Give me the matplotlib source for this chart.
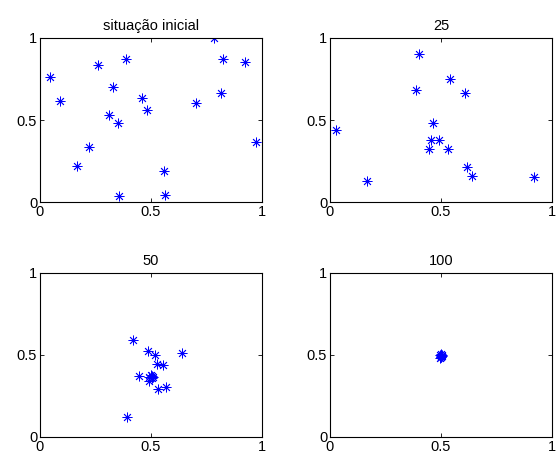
import numpy as np
import matplotlib
matplotlib.use("Agg")
import matplotlib.pyplot as plt

plt.rcParams['font.family'] = ['Liberation Sans', 'DejaVu Sans']

# situacao inicial
x0 = [0.045, 0.09, 0.168, 0.221, 0.263, 0.331, 0.313, 0.353, 0.386, 0.358,
      0.46, 0.481, 0.559, 0.564, 0.704, 0.785, 0.824, 0.815, 0.925, 0.974]
y0 = [0.762, 0.614, 0.217, 0.333, 0.833, 0.699, 0.533, 0.482, 0.872, 0.039,
      0.632, 0.563, 0.187, 0.045, 0.604, 1.0, 0.872, 0.665, 0.852, 0.364]

# 25
x25 = [0.025, 0.165, 0.402, 0.387, 0.465, 0.453, 0.444, 0.49, 0.532, 0.541,
       0.609, 0.615, 0.64, 0.918]
y25 = [0.441, 0.130, 0.902, 0.685, 0.482, 0.380, 0.323, 0.376, 0.325, 0.752,
       0.665, 0.211, 0.161, 0.152]

# 50
x50 = [0.421, 0.486, 0.517, 0.638, 0.526, 0.555, 0.444, 0.492, 0.503, 0.492,
       0.530, 0.568, 0.394, 0.509, 0.498, 0.505]
y50 = [0.593, 0.524, 0.502, 0.514, 0.443, 0.439, 0.370, 0.366, 0.372, 0.341,
       0.293, 0.305, 0.122, 0.366, 0.378, 0.360]

# 100
x100 = [0.495, 0.500, 0.505, 0.498, 0.502, 0.497, 0.503, 0.500]
y100 = [0.500, 0.505, 0.495, 0.490, 0.485, 0.480, 0.500, 0.495]

titles = ['situação inicial', '25', '50', '100']
data = [(x0, y0), (x25, y25), (x50, y50), (x100, y100)]

fig = plt.figure(figsize=(5.6, 4.55), dpi=100)
positions = [
    [40/560, (455-202)/455, 222/560, 164/455],
    [330/560, (455-202)/455, 222/560, 164/455],
    [40/560, (455-437)/455, 222/560, 164/455],
    [330/560, (455-437)/455, 222/560, 164/455],
]

for pos, title, (xs, ys) in zip(positions, titles, data):
    ax = fig.add_axes(pos)
    ax.plot(xs, ys, linestyle='none', marker=(8, 2, 0), markersize=7,
            color='#0000ff', markeredgewidth=0.6)
    ax.set_xlim(0, 1)
    ax.set_ylim(0, 1)
    ax.set_xticks([0, 0.5, 1])
    ax.set_yticks([0, 0.5, 1])
    ax.set_xticklabels(['0', '0.5', '1'])
    ax.set_yticklabels(['0', '0.5', '1'])
    ax.tick_params(direction='in', length=3, width=0.6, labelsize=10.5,
                   top=True, right=True, pad=2)
    for s in ax.spines.values():
        s.set_linewidth(0.8)
    ax.set_title(title, fontsize=10.5, pad=6)

fig.savefig('out.png', dpi=100)
